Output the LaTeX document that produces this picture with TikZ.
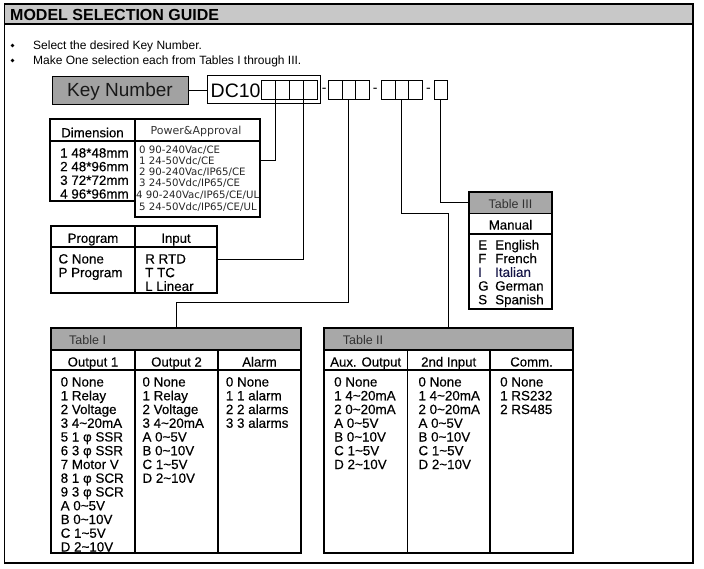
\documentclass[tikz,border=0pt]{standalone}
\usepackage{fontspec}
\setmainfont{Liberation Sans}
\newfontfamily\verdfont{DejaVu Sans}
\newfontfamily\entfont{Liberation Sans}[FakeBold=0.35]
\definecolor{bandgray}{RGB}{200,200,200}
\definecolor{hgray}{RGB}{168,168,168}
\definecolor{keygray}{RGB}{162,162,162}
\definecolor{htext}{RGB}{50,50,50}
\definecolor{navy}{RGB}{20,20,70}
\newcommand{\tld}{\textasciitilde}
\tikzset{
 box/.style={draw, rectangle, inner sep=0pt, outer sep=0pt, anchor=north west},
 tbl/.style={box, line width=1.8pt},
 cellbox/.style={box, line width=0.9pt, minimum width=13.5pt, minimum height=19pt},
 conn/.style={line width=0.9pt},
 rule/.style={line width=1.8pt},
 ent/.style={anchor=base west, inner sep=0pt, font=\entfont\fontsize{13.4}{14}\selectfont},
 hd/.style={anchor=base, inner sep=0pt, font=\entfont\fontsize{13.2}{14}\selectfont},
 ttl/.style={anchor=base west, inner sep=0pt, font=\fontsize{12.5}{14}\selectfont, text=htext},
 pw/.style={anchor=base west, inner sep=0pt, font=\verdfont\fontsize{10.2}{11}\selectfont, text=black!85},
 dsh/.style={anchor=base, inner sep=0pt, font=\fontsize{14}{14}\selectfont},
}
\begin{document}
\begin{tikzpicture}[x=1pt,y=-1pt]
\useasboundingbox (0,0) rectangle (704,568);
% frame and title band
\node[box, line width=1.2pt, minimum width=688.5pt, minimum height=559pt] (frame) at (4.5,4) {};
\node[box, line width=1.2pt, fill=bandgray, minimum width=688.5pt, minimum height=20pt] (band) at (4.5,4) {};
\node[anchor=base west, inner sep=0pt, font=\bfseries\fontsize{16}{18}\selectfont] (title) at (10,20.5) {MODEL SELECTION GUIDE};
% bullets
\node[circle, fill, inner sep=0pt, minimum size=3.8pt] (dot1) at (12.5,45.5) {};
\node[anchor=base west, inner sep=0pt, font=\fontsize{12}{14}\selectfont] (bul1) at (33,49.5) {Select the desired Key Number.};
\node[circle, fill, inner sep=0pt, minimum size=3.8pt] (dot2) at (12.5,60.5) {};
\node[anchor=base west, inner sep=0pt, font=\fontsize{12}{14}\selectfont] (bul2) at (33,64.5) {Make One selection each from Tables I through III.};
% key number
\node[box, line width=0.9pt, fill=keygray, minimum width=136pt, minimum height=28pt, font=\fontsize{19}{20}\selectfont, text height=13.6pt, text depth=0pt, text=black!90] (key) at (52,76) {Key Number};
\node[box, line width=0.9pt, minimum width=113pt, minimum height=28pt] (dc) at (207,75) {};
\node[anchor=base west, inner sep=0pt, font=\fontsize{19.5}{20}\selectfont] (dctxt) at (210.5,97.3) {DC10};
\draw[conn] (key.east) -- (dc.west |- key.east);
\foreach \i in {0,...,3} \node[cellbox, minimum width=14pt] (a\i) at ({261+14*\i},80.5) {};
\node[dsh] (dash1) at (324.3,92.8) {-};
\foreach \i in {0,1,2} \node[cellbox] (b\i) at ({328.5+13.5*\i},80.5) {};
\node[dsh] (dash2) at (375.3,92.8) {-};
\foreach \i in {0,1,2} \node[cellbox] (c\i) at ({381.5+13.5*\i},80.5) {};
\node[dsh] (dash3) at (428.5,92.8) {-};
\node[cellbox] (d0) at (434,80.5) {};
% dimension / power
\node[tbl, minimum width=85pt, minimum height=82pt] (dimbox) at (50,119) {};
\node[tbl, minimum width=125pt, minimum height=98pt] (powbox) at (135,119) {};
\draw[rule] (50,141) -- (260,141);
\node[hd] (dimh) at (92.5,137.3) {Dimension};
\node[anchor=base, inner sep=0pt, font=\verdfont\fontsize{11}{12}\selectfont, text=htext] (powh) at (196,134.5) {Power\&Approval};
\foreach \t [count=\i from 0] in {1 48*48mm,2 48*96mm,3 72*72mm,4 96*96mm}
  \node[ent] (dim\i) at (60,{157.5+13.7*\i}) {\t};
\node[pw] (pw0) at (139,153.6) {0 90-240Vac/CE};
\node[pw] (pw1) at (139,164.6) {1 24-50Vdc/CE};
\node[pw] (pw2) at (139,175.6) {2 90-240Vac/IP65/CE};
\node[pw] (pw3) at (139,186.6) {3 24-50Vdc/IP65/CE};
\node[pw] (pw4) at (136,198) {4 90-240Vac/IP65/CE/UL};
\node[pw] (pw5) at (139,210.5) {5 24-50Vdc/IP65/CE/UL};
% program / input
\node[tbl, minimum width=84pt, minimum height=67pt] (progbox) at (51,226) {};
\node[tbl, minimum width=82pt, minimum height=67pt] (inbox) at (135,226) {};
\draw[rule] (51,247) -- (217,247);
\node[hd] (progh) at (93,242.8) {Program};
\node[hd] (inh) at (176,242.8) {Input};
\node[ent] (pr0) at (58.3,263.5) {C None};
\node[ent] (pr1) at (58.3,277.2) {P Program};
\node[ent] (in0) at (145,263.5) {R RTD};
\node[ent] (in1) at (145,277.2) {T TC};
\node[ent] (in2) at (145,290.9) {L Linear};
% table III
\node[tbl, minimum width=83pt, minimum height=117pt] (t3) at (469,192) {};
\node[tbl, fill=hgray, minimum width=83pt, minimum height=21.5pt] (t3h) at (469,192) {};
\draw[rule] (469,234) -- (552,234);
\node[anchor=base, inner sep=0pt, font=\fontsize{12.5}{14}\selectfont, text=htext] (t3t) at (510.5,208.5) {Table III};
\node[hd] (t3c) at (510.5,229.5) {Manual};
\foreach \l/\w/\c [count=\i from 0] in {E/English/black,F/French/black,I/Italian/navy,G/German/black,S/Spanish/black}{
  \node[ent, text=\c] (t3l\i) at (478,{249.5+13.7*\i}) {\l};
  \node[ent, text=\c] (t3w\i) at (495,{249.5+13.7*\i}) {\w};
}
% table I
\node[tbl, minimum width=250pt, minimum height=225pt] (t1) at (51,328) {};
\node[tbl, fill=hgray, minimum width=250pt, minimum height=22pt] (t1h) at (51,328) {};
\draw[rule] (51,370) -- (301,370);
\draw[rule] (135,350) -- (135,553);
\draw[rule] (218,350) -- (218,553);
\node[ttl] (t1t) at (69,344.3) {Table I};
\node[hd] (t1c1) at (93,366.5) {Output 1};
\node[hd] (t1c2) at (176.5,366.5) {Output 2};
\node[hd] (t1c3) at (259.5,366.5) {Alarm};
\foreach \t [count=\i from 0] in {0 None,1 Relay,2 Voltage,3 4\tld20mA,5 1 φ SSR,6 3 φ SSR,7 Motor V,8 1 φ SCR,9 3 φ SCR,A 0\tld5V,B 0\tld10V,C 1\tld5V,D 2\tld10V}
  \node[ent] (oa\i) at (60.5,{386.5+13.75*\i}) {\t};
\foreach \t [count=\i from 0] in {0 None,1 Relay,2 Voltage,3 4\tld20mA,A 0\tld5V,B 0\tld10V,C 1\tld5V,D 2\tld10V}
  \node[ent] (ob\i) at (142.3,{386.5+13.75*\i}) {\t};
\foreach \t [count=\i from 0] in {0 None,1 1 alarm,2 2 alarms,3 3 alarms}
  \node[ent] (al\i) at (225.7,{386.5+13.75*\i}) {\t};
% table II
\node[tbl, minimum width=249pt, minimum height=225pt] (t2) at (324,328) {};
\node[tbl, fill=hgray, minimum width=249pt, minimum height=22pt] (t2h) at (324,328) {};
\draw[rule] (324,370) -- (573,370);
\draw[rule] (407.5,350) -- (407.5,553);
\draw[rule] (490,350) -- (490,553);
\node[ttl] (t2t) at (342.7,344.3) {Table II};
\node[hd] (t2c1) at (365.7,366.5) {Aux. Output};
\node[hd] (t2c2) at (448.7,366.5) {2nd Input};
\node[hd] (t2c3) at (531.5,366.5) {Comm.};
\foreach \t [count=\i from 0] in {0 None,1 4\tld20mA,2 0\tld20mA,A 0\tld5V,B 0\tld10V,C 1\tld5V,D 2\tld10V}{
  \node[ent] (ax\i) at (334,{386.5+13.75*\i}) {\t};
  \node[ent] (si\i) at (418.3,{386.5+13.75*\i}) {\t};
}
\foreach \t [count=\i from 0] in {0 None,1 RS232,2 RS485}
  \node[ent] (cm\i) at (500,{386.5+13.75*\i}) {\t};
% connectors
\coordinate (pwin) at (260,160);
\coordinate (t1in) at (176,328);
\coordinate (t2in) at (448,328);
\draw[conn] (a0.south east) |- (pwin);
\draw[conn] (a2.south east) |- (inbox.east);
\draw[conn] (b1.south) |- ([yshift=26pt]t1in) -- (t1in);
\draw[conn] (c1.south) |- ([yshift=115pt]t2in) -- (t2in);
\draw[conn] (d0.south) |- (t3h.west);
\end{tikzpicture}
\end{document}
